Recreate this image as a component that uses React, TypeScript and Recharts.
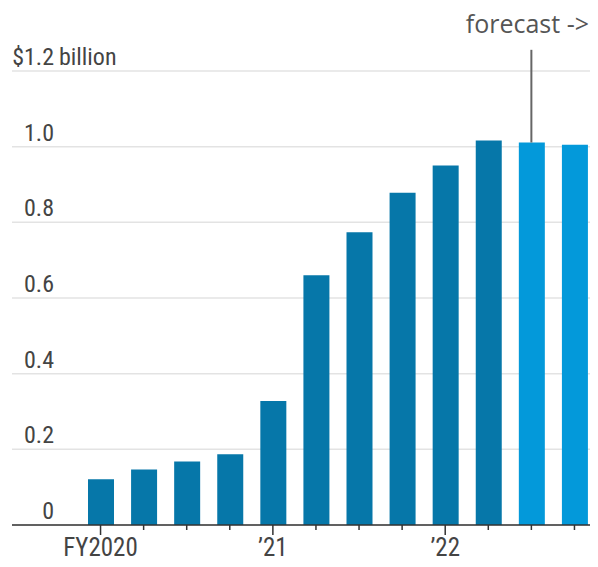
import React from 'react';
import { BarChart, Bar, XAxis, YAxis, CartesianGrid, Cell, ReferenceLine } from 'recharts';

const categories = ['FY20 Q1', 'FY20 Q2', 'FY20 Q3', 'FY20 Q4', 'FY21 Q1', 'FY21 Q2', 'FY21 Q3', 'FY21 Q4', 'FY22 Q1', 'FY22 Q2', 'FY22 Q3', 'FY22 Q4'];
const revenue = [0.121, 0.147, 0.168, 0.187, 0.328, 0.66, 0.774, 0.878, 0.95, 1.016, 1.011, 1.005];
const isForecast = [false, false, false, false, false, false, false, false, false, false, true, true];
const xTickLabels = ['FY2020', '', '', '', '\u201921', '', '', '', '\u201922', '', '', ''];
const majorTick = [true, false, false, false, true, false, false, false, true, false, false, false];
const yTicks = [0, 0.2, 0.4, 0.6, 0.8, 1.0, 1.2];
const yTickLabels = ['0', '0.2', '0.4', '0.6', '0.8', '1.0', '$1.2'];
const yUnit = 'billion';
const forecastLabel = 'forecast ->';
const forecastTop = 1.256;

const data = categories.map((c, i) => ({ name: c, value: revenue[i], forecast: isForecast[i] }));

const NARROW = "'Liberation Sans Narrow', 'Arial Narrow', 'Roboto Condensed', 'DejaVu Sans Condensed', sans-serif";
const DARK = '#0677a9';
const LIGHT = '#0399da';
const FS = 24;

const YTick = (props: any) => {
  const { x, y, payload } = props;
  const i = yTicks.indexOf(payload.value);
  const label = i >= 0 ? yTickLabels[i] : String(payload.value);
  const ax = x + 42;
  return (
    <g>
      <text x={ax} y={y - 6} textAnchor="end" fontFamily={NARROW} fontSize={FS} fill="#444">
        {label}
      </text>
      {i === yTicks.length - 1 && (
        <text x={ax + 5} y={y - 6} textAnchor="start" fontFamily={NARROW} fontSize={FS} fill="#444">
          {yUnit}
        </text>
      )}
    </g>
  );
};

const XTick = (props: any) => {
  const { x, y, index } = props;
  const major = majorTick[index];
  return (
    <g>
      <line x1={x} x2={x} y1={y} y2={y + (major ? 10 : 5)} stroke="#333" strokeWidth={1.5} />
      {xTickLabels[index] && (
        <text x={x} y={y + 31} textAnchor="middle" fontFamily={NARROW} fontSize={FS + 1} fill="#444">
          {xTickLabels[index]}
        </text>
      )}
    </g>
  );
};

const ForecastLabel = (props: any) => {
  const { viewBox } = props;
  if (!viewBox) return null;
  const cx = viewBox.x + (viewBox.width || 0) / 2;
  return (
    <text
      x={cx - 4}
      y={viewBox.y - 17}
      textAnchor="middle"
      fill="#555"
      fontSize={25}
      fontFamily="'Open Sans', 'Noto Sans', sans-serif"
    >
      {forecastLabel}
    </text>
  );
};

export default function App() {
  return (
    <div style={{ width: 590, height: 559 }}>
      <BarChart
        width={590}
        height={559}
        data={data}
        margin={{ top: 63, right: 0, bottom: 0, left: 0 }}
        barCategoryGap={0}
      >
        <CartesianGrid horizontal vertical={false} stroke="#e3e3e3" strokeWidth={1.5} />
        <XAxis
          dataKey="name"
          interval={0}
          tickLine={false}
          tickSize={0}
          tickMargin={0}
          height={42}
          axisLine={{ stroke: '#333', strokeWidth: 1.5 }}
          padding={{ left: 67, right: 2 }}
          tick={<XTick />}
        />
        <YAxis
          domain={[0, 1.2]}
          ticks={yTicks}
          width={4}
          axisLine={false}
          tickLine={false}
          tickSize={0}
          tickMargin={0}
          tick={<YTick />}
          interval={0}
          allowDataOverflow
        />
        <Bar dataKey="value" barSize={26} isAnimationActive={false}>
          {data.map((d, i) => (
            <Cell key={i} fill={d.forecast ? LIGHT : DARK} />
          ))}
        </Bar>
        <ReferenceLine
          segment={[
            { x: categories[10], y: revenue[10] },
            { x: categories[10], y: forecastTop },
          ]}
          ifOverflow="visible"
          stroke="#666"
          strokeWidth={2}
          label={<ForecastLabel />}
        />
      </BarChart>
    </div>
  );
}
